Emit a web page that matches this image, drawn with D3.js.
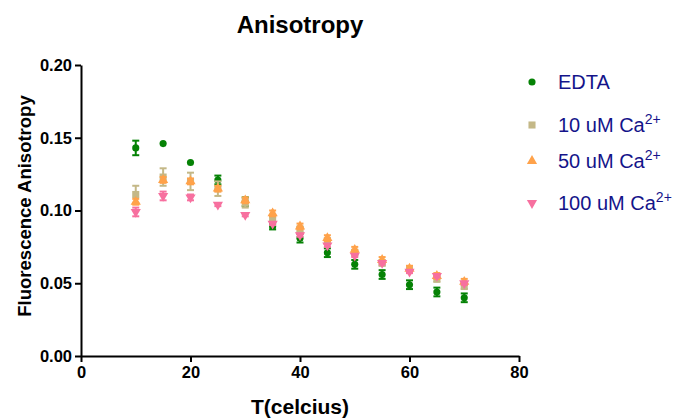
<!DOCTYPE html>
<html lang="en">
  <head>
    <meta charset="utf-8">
    <title>Anisotropy</title>
    <script src="https://cdnjs.cloudflare.com/ajax/libs/d3/7.8.5/d3.min.js"></script>
    <style>
      body { margin: 0; background: #fff; }
      .axis path, .axis line { stroke: #000; stroke-width: 2px; }
      .axis text { font-family: Arial, "Liberation Sans", sans-serif; font-size: 16.5px; font-weight: bold; fill: #000; }
    </style>
  </head>
  <body>
    <div id="chartDiv"></div>
    <script>
      // temperatures (x)
      var temps = [10, 15, 20, 25, 30, 35, 40, 45, 50, 55, 60, 65, 70];

      var edta     = [0.143, 0.146, 0.133, 0.121, 0.106, 0.089, 0.081, 0.071, 0.063, 0.056, 0.049, 0.044, 0.040];
      var edtaErr  = [0.005, 0, 0, 0.003, 0.003, 0.002, 0.003, 0.003, 0.003, 0.003, 0.003, 0.003, 0.003];
      var ca10     = [0.111, 0.123, 0.120, 0.115, 0.105, 0.094, 0.087, 0.079, 0.071, 0.064, 0.059, 0.053, 0.048];
      var ca10Err  = [0.006, 0.006, 0.006, 0.005, 0.003, 0.002, 0.002, 0.002, 0.002, 0.002, 0.002, 0.002, 0.002];
      var ca50     = [0.106, 0.121, 0.120, 0.115, 0.107, 0.098, 0.089, 0.081, 0.073, 0.066, 0.060, 0.055, 0.051];
      var ca50Err  = [0.002, 0.002, 0.002, 0.002, 0.002, 0.002, 0.002, 0.002, 0.002, 0.002, 0.002, 0.002, 0.002];
      var ca100    = [0.099, 0.110, 0.109, 0.104, 0.097, 0.091, 0.083, 0.076, 0.069, 0.064, 0.058, 0.055, 0.050];
      var ca100Err = [0.003, 0.003, 0.002, 0.001, 0.001, 0.001, 0.001, 0.001, 0.001, 0.001, 0.001, 0.001, 0.001];

      var xTicks = [0, 20, 40, 60, 80];
      var yTicks = [0.00, 0.05, 0.10, 0.15, 0.20];

      var seriesNames = ["EDTA", "10 uM Ca", "50 uM Ca", "100 uM Ca"];

      var series = [
        {name: seriesNames[0], sup: "",   values: edta,  errs: edtaErr,  color: "#058205", shape: "circle"},
        {name: seriesNames[1], sup: "2+", values: ca10,  errs: ca10Err,  color: "#c4b887", shape: "square"},
        {name: seriesNames[2], sup: "2+", values: ca50,  errs: ca50Err,  color: "#ffa24a", shape: "up"},
        {name: seriesNames[3], sup: "2+", values: ca100, errs: ca100Err, color: "#f7709f", shape: "down"}
      ];

      var chartWd = 681, chartHt = 419;
      var padL = 81, padR = 519, padT = 65, padB = 356;

      var svg = d3.select("#chartDiv").append("svg")
        .attr("width", chartWd)
        .attr("height", chartHt);

      var xScale = d3.scaleLinear().domain([0, 80]).range([padL, padR]);
      var yScale = d3.scaleLinear().domain([0, 0.2]).range([padB, padT]);

      var xAxis = d3.axisBottom(xScale).tickValues(xTicks).tickSize(6).tickSizeOuter(0).tickPadding(4)
        .tickFormat(d3.format("d"));
      var yAxis = d3.axisLeft(yScale).tickValues(yTicks).tickSize(6).tickSizeOuter(0).tickPadding(3)
        .tickFormat(d3.format(".2f"));

      svg.append("g").attr("class", "axis")
        .attr("transform", "translate(0," + padB + ")")
        .call(xAxis);
      svg.append("g").attr("class", "axis")
        .attr("transform", "translate(" + padL + ",0)")
        .call(yAxis);

      var symbolFor = function(shape) {
        if (shape == "circle") return d3.symbol().type(d3.symbolCircle).size(40)();
        if (shape == "square") return d3.symbol().type(d3.symbolSquare).size(50)();
        return d3.symbol().type(d3.symbolTriangle).size(45)();
      };

      series.forEach(function(s) {
        var g = svg.append("g");
        var pts = temps.map(function(t, i) { return {x: t, y: s.values[i], e: s.errs[i]}; });

        var eb = g.selectAll("g.err").data(pts.filter(function(d) { return d.e > 0; }))
          .enter().append("g").attr("class", "err")
          .attr("stroke", s.color).attr("stroke-width", 2);
        eb.append("line")
          .attr("x1", function(d) { return xScale(d.x); })
          .attr("x2", function(d) { return xScale(d.x); })
          .attr("y1", function(d) { return yScale(d.y + d.e); })
          .attr("y2", function(d) { return yScale(d.y - d.e); });
        eb.append("line")
          .attr("x1", function(d) { return xScale(d.x) - 3.5; })
          .attr("x2", function(d) { return xScale(d.x) + 3.5; })
          .attr("y1", function(d) { return yScale(d.y + d.e); })
          .attr("y2", function(d) { return yScale(d.y + d.e); });
        eb.append("line")
          .attr("x1", function(d) { return xScale(d.x) - 3.5; })
          .attr("x2", function(d) { return xScale(d.x) + 3.5; })
          .attr("y1", function(d) { return yScale(d.y - d.e); })
          .attr("y2", function(d) { return yScale(d.y - d.e); });

        g.selectAll("path.pt").data(pts).enter().append("path")
          .attr("class", "pt")
          .attr("d", symbolFor(s.shape))
          .attr("fill", s.color)
          .attr("transform", function(d) {
            return "translate(" + xScale(d.x) + "," + yScale(d.y) + ")" + (s.shape == "down" ? " rotate(180)" : "");
          });
      });

      var font = "Arial, 'Liberation Sans', sans-serif";

      // title
      svg.append("text")
        .attr("x", 300).attr("y", 33)
        .attr("text-anchor", "middle")
        .attr("font-family", font)
        .attr("font-size", "24px").attr("font-weight", "bold")
        .text("Anisotropy");

      // axis titles
      svg.append("text")
        .attr("x", 300).attr("y", 414)
        .attr("text-anchor", "middle")
        .attr("font-family", font)
        .attr("font-size", "21px").attr("font-weight", "bold")
        .text("T(celcius)");

      svg.append("text")
        .attr("transform", "translate(31,206) rotate(-90)")
        .attr("text-anchor", "middle")
        .attr("font-family", font)
        .attr("font-size", "18.5px").attr("font-weight", "bold")
        .text("Fluorescence Anisotropy");

      // legend
      var legendY = [82, 125, 161, 203];
      var legend = svg.selectAll("g.leg").data(series).enter().append("g")
        .attr("class", "leg")
        .attr("transform", function(d, i) { return "translate(532," + legendY[i] + ")"; });
      legend.append("path")
        .attr("d", function(d) { return symbolFor(d.shape); })
        .attr("fill", function(d) { return d.color; })
        .attr("transform", function(d) { return d.shape == "down" ? "rotate(180)" : ""; });
      var lt = legend.append("text")
        .attr("x", 26).attr("y", 7)
        .attr("font-family", font)
        .attr("font-size", "20px")
        .attr("fill", "#14148a");
      lt.append("tspan").text(function(d) { return d.name; });
      lt.append("tspan")
        .attr("dy", -8).attr("font-size", "14px")
        .text(function(d) { return d.sup; });
    </script>
  </body>
</html>
